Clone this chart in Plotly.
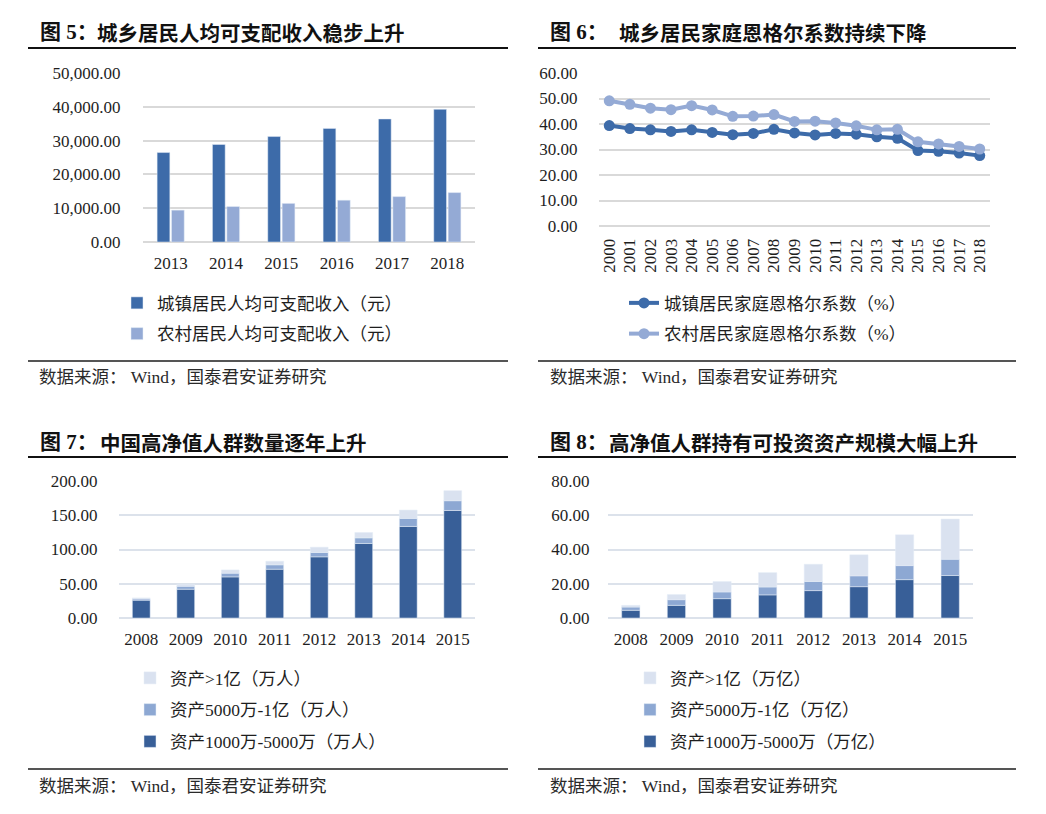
import plotly.graph_objects as go
import numpy as np

W, H = 1046, 814

# ---------------- data ----------------
# 图5
years5 = ["2013", "2014", "2015", "2016", "2017", "2018"]
urban_income = [26467, 28844, 31195, 33616, 36396, 39251]
rural_income = [9430, 10489, 11422, 12363, 13432, 14617]

# 图6
years6 = ["2000", "2001", "2002", "2003", "2004", "2005", "2006", "2007", "2008", "2009",
          "2010", "2011", "2012", "2013", "2014", "2015", "2016", "2017", "2018"]
urban_engel = [39.4, 38.2, 37.7, 37.1, 37.7, 36.7, 35.8, 36.3, 37.9, 36.5,
               35.7, 36.3, 36.0, 35.0, 34.4, 29.6, 29.3, 28.6, 27.6]
rural_engel = [49.1, 47.7, 46.2, 45.6, 47.2, 45.5, 43.0, 43.1, 43.7, 41.0,
               41.1, 40.4, 39.3, 37.7, 37.9, 33.0, 32.2, 31.2, 30.2]

# 图7
years7 = ["2008", "2009", "2010", "2011", "2012", "2013", "2014", "2015"]
people_1000_5000 = [26.0, 42.0, 60.0, 71.2, 89.3, 108.8, 133.7, 157.0]
people_5000_1yi = [1.8, 4.3, 5.4, 6.4, 6.3, 8.2, 11.7, 14.2]
people_gt_1yi = [1.5, 3.0, 4.8, 5.3, 7.8, 7.9, 12.2, 14.7]

# 图8
years8 = ["2008", "2009", "2010", "2011", "2012", "2013", "2014", "2015"]
asset_1000_5000 = [4.5, 7.4, 11.3, 13.5, 16.0, 18.3, 22.4, 24.8]
asset_5000_1yi = [1.9, 3.3, 3.9, 4.6, 5.3, 6.3, 8.2, 9.5]
asset_gt_1yi = [1.0, 3.0, 6.1, 8.4, 10.1, 12.3, 18.0, 23.5]

# ---------------- styles ----------------
FONT = "Liberation Serif, Noto Sans CJK SC, serif"
DARK = "#3D6BA9"
LIGHT = "#94AAD5"
DARK_B = "#385F98"
MID_B = "#8DA8D3"
PALE_B = "#DAE2F0"
GRID_T = "#D9D9D9"
GRID_B = "#DCE2EB"
TXT = "#1E1E1E"


def px(x):
    return x / W


def py(y):
    return 1 - y / H


fig = go.Figure()

# 图5 bars
fig.add_trace(go.Bar(x=years5, y=urban_income, name="城镇居民人均可支配收入（元）",
                     marker_color=DARK, width=0.23, offset=-0.245,
                     xaxis="x", yaxis="y", legend="legend", legendgroup="a1", legendrank=1))
fig.add_trace(go.Bar(x=years5, y=rural_income, name="农村居民人均可支配收入（元）",
                     marker_color=LIGHT, width=0.23, offset=0.015,
                     xaxis="x", yaxis="y", legend="legend", legendgroup="a2", legendrank=2))

# 图6 lines
fig.add_trace(go.Scatter(x=years6, y=urban_engel, name="城镇居民家庭恩格尔系数（%）",
                         mode="lines+markers", line=dict(color=DARK, width=4),
                         marker=dict(size=11, color=DARK),
                         xaxis="x2", yaxis="y2", legend="legend2", legendgroup="b1", legendrank=1))
fig.add_trace(go.Scatter(x=years6, y=rural_engel, name="农村居民家庭恩格尔系数（%）",
                         mode="lines+markers", line=dict(color=LIGHT, width=4),
                         marker=dict(size=11, color=LIGHT),
                         xaxis="x2", yaxis="y2", legend="legend2", legendgroup="b2", legendrank=2))

# 图7 stacked bars
p1 = np.array(people_1000_5000)
p2 = np.array(people_5000_1yi)
fig.add_trace(go.Bar(x=years7, y=people_1000_5000, name="资产1000万-5000万（万人）",
                     marker_color=DARK_B, width=0.4,
                     xaxis="x3", yaxis="y3", legend="legend3", legendgroup="c1", legendrank=3))
fig.add_trace(go.Bar(x=years7, y=people_5000_1yi, base=p1, name="资产5000万-1亿（万人）",
                     marker_color=MID_B, width=0.4,
                     xaxis="x3", yaxis="y3", legend="legend3", legendgroup="c2", legendrank=2))
fig.add_trace(go.Bar(x=years7, y=people_gt_1yi, base=p1 + p2, name="资产>1亿（万人）",
                     marker_color=PALE_B, width=0.4,
                     xaxis="x3", yaxis="y3", legend="legend3", legendgroup="c3", legendrank=1))

# 图8 stacked bars
a1 = np.array(asset_1000_5000)
a2 = np.array(asset_5000_1yi)
fig.add_trace(go.Bar(x=years8, y=asset_1000_5000, name="资产1000万-5000万（万亿）",
                     marker_color=DARK_B, width=0.4,
                     xaxis="x4", yaxis="y4", legend="legend4", legendgroup="d1", legendrank=3))
fig.add_trace(go.Bar(x=years8, y=asset_5000_1yi, base=a1, name="资产5000万-1亿（万亿）",
                     marker_color=MID_B, width=0.4,
                     xaxis="x4", yaxis="y4", legend="legend4", legendgroup="d2", legendrank=2))
fig.add_trace(go.Bar(x=years8, y=asset_gt_1yi, base=a1 + a2, name="资产>1亿（万亿）",
                     marker_color=PALE_B, width=0.4,
                     xaxis="x4", yaxis="y4", legend="legend4", legendgroup="d3", legendrank=1))

tickfont = dict(family=FONT, size=17, color=TXT)


def xax(x0, x1, y_anchor, n, ticklen=6, angle=None):
    d = dict(domain=[px(x0), px(x1)], anchor=y_anchor, type="category",
             range=[-0.5, n - 0.5], showgrid=False, showline=False, zeroline=False,
             ticks="outside", ticklen=ticklen, tickcolor="rgba(0,0,0,0)",
             tickfont=tickfont, fixedrange=True, automargin=False)
    if angle is not None:
        d["tickangle"] = angle
    return d


def yax(y0, y1, x_anchor, rng, dtick, fmt, grid, ticklen):
    return dict(domain=[py(y1), py(y0)], anchor=x_anchor, range=rng, dtick=dtick,
                tickformat=fmt, showgrid=True, gridcolor=grid, gridwidth=2,
                zeroline=True, zerolinecolor=grid, zerolinewidth=2, showline=False,
                ticks="outside", ticklen=ticklen, tickcolor="rgba(0,0,0,0)",
                tickfont=tickfont, fixedrange=True, automargin=False)


def leg(x, y, gap):
    return dict(x=px(x), y=py(y), xanchor="left", yanchor="top",
                orientation="v", bgcolor="rgba(0,0,0,0)",
                font=dict(family=FONT, size=17.5, color=TXT),
                traceorder="grouped", tracegroupgap=gap)


annotations = []
shapes = []


def panel_text(x_fig, x_title, y_title, prefix, title, y_under, y_src_line, y_src, x_line0, x_line1, x_src):
    annotations.append(dict(x=px(x_fig), y=py(y_title), xref="paper", yref="paper",
                            text="<b>" + prefix + "</b>", showarrow=False,
                            xanchor="left", yanchor="middle",
                            font=dict(family=FONT, size=21, color="#111111")))
    annotations.append(dict(x=px(x_title), y=py(y_title), xref="paper", yref="paper",
                            text="<b>" + title + "</b>", showarrow=False,
                            xanchor="left", yanchor="middle",
                            font=dict(family="Noto Sans CJK SC", size=20.5, color="#111111")))
    shapes.append(dict(type="line", xref="paper", yref="paper",
                       x0=px(x_line0), x1=px(x_line1), y0=py(y_under), y1=py(y_under),
                       line=dict(color="#111111", width=2)))
    shapes.append(dict(type="line", xref="paper", yref="paper",
                       x0=px(x_line0), x1=px(x_line1), y0=py(y_src_line), y1=py(y_src_line),
                       line=dict(color="#555555", width=2)))
    annotations.append(dict(x=px(x_src), y=py(y_src), xref="paper", yref="paper",
                            text="数据来源： Wind，国泰君安证券研究", showarrow=False,
                            xanchor="left", yanchor="middle",
                            font=dict(family=FONT, size=17.5, color="#2A2A2A")))


panel_text(38, 95, 32, "图 5：", "城乡居民人均可支配收入稳步上升", 48, 361, 377, 28, 508, 37)
panel_text(548, 617, 32, "图 6：", "城乡居民家庭恩格尔系数持续下降", 48, 361, 377, 538, 1016, 548)
panel_text(38, 98, 442, "图 7：", "中国高净值人群数量逐年上升", 457, 769, 786, 28, 508, 37)
panel_text(548, 607, 442, "图 8：", "高净值人群持有可投资资产规模大幅上升", 457, 769, 786, 538, 1016, 548)

fig.update_layout(
    width=W, height=H,
    margin=dict(l=0, r=0, t=0, b=0, pad=0, autoexpand=False),
    paper_bgcolor="white", plot_bgcolor="white",
    barmode="overlay",
    font=dict(family=FONT, size=17, color=TXT),
    xaxis=xax(143, 475, "y", len(years5), ticklen=6),
    yaxis=yax(73, 242, "x", [0, 50000], 10000, ",.2f", GRID_T, 18),
    xaxis2=xax(599, 990, "y2", len(years6), ticklen=5, angle=-90),
    yaxis2=yax(73, 226, "x2", [0, 60], 10, ".2f", GRID_T, 17),
    xaxis3=xax(119, 475, "y3", len(years7), ticklen=6),
    yaxis3=yax(481, 618, "x3", [0, 200], 50, ".2f", GRID_B, 17),
    xaxis4=xax(608, 973, "y4", len(years8), ticklen=6),
    yaxis4=yax(481, 618, "x4", [0, 80], 20, ".2f", GRID_B, 14),
    legend=leg(117, 285, 5),
    legend2=leg(624, 285, 5),
    legend3=leg(130, 660, 6),
    legend4=leg(630, 660, 6),
    annotations=annotations,
    shapes=shapes,
    showlegend=True,
)

fig.write_html("out.html")
